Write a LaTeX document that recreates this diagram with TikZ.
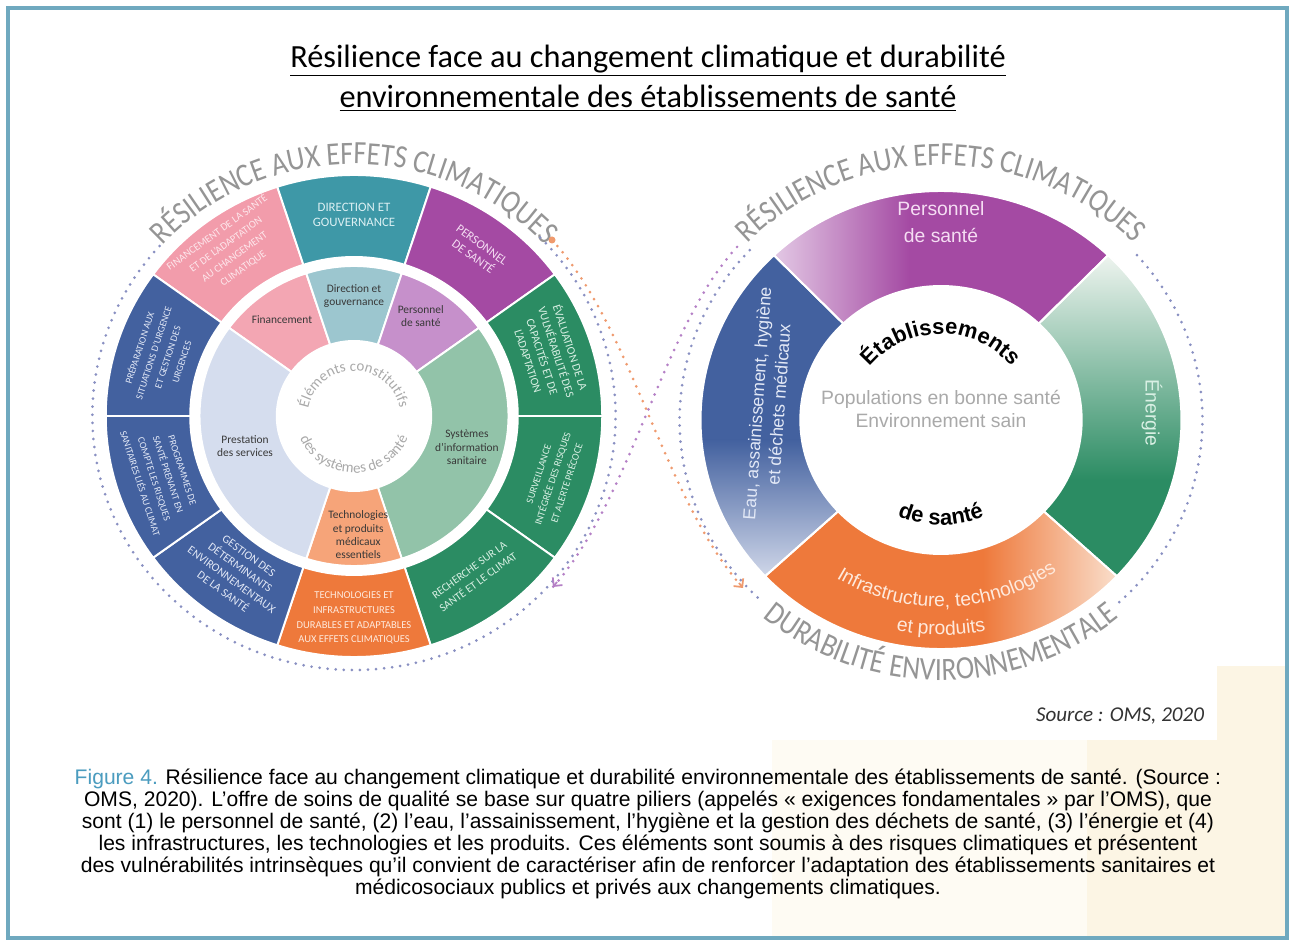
\documentclass[tikz,border=0pt]{standalone}
\usepackage{fontspec}
\setmainfont{Liberation Sans}
\newfontfamily\calib{Carlito}
\newfontfamily\arcfont[FakeStretch=0.85]{Carlito}
\usetikzlibrary{decorations.text,arrows.meta,calc}

\definecolor{framecol}{HTML}{6FA9BF}
\definecolor{figcol}{HTML}{4B9CBF}
\definecolor{creamA}{HTML}{FEFBF3}
\definecolor{creamB}{HTML}{FCF5E4}
\definecolor{pinkO}{HTML}{F29CAB}
\definecolor{pinkI}{HTML}{F3A6B3}
\definecolor{tealO}{HTML}{3E98A7}
\definecolor{tealI}{HTML}{9CC6CF}
\definecolor{purpO}{HTML}{A44AA3}
\definecolor{purpI}{HTML}{C690CB}
\definecolor{purpL}{HTML}{E8D3EA}
\definecolor{greenO}{HTML}{2B8C63}
\definecolor{greenI}{HTML}{92C3A9}
\definecolor{greenL}{HTML}{EEF4EF}
\definecolor{orangeO}{HTML}{EE793B}
\definecolor{orangeI}{HTML}{F6A479}
\definecolor{orangeL}{HTML}{FAE0CE}
\definecolor{blueO}{HTML}{43619F}
\definecolor{blueI}{HTML}{D5DDEE}
\definecolor{blueL}{HTML}{E3E7F3}
\definecolor{txtpink}{HTML}{FDE7EC}
\definecolor{txtteal}{HTML}{DCF0F3}
\definecolor{txtpurp}{HTML}{F5DDF3}
\definecolor{txtgreen}{HTML}{D9F0E4}
\definecolor{txtorange}{HTML}{FEE9DC}
\definecolor{txtblue}{HTML}{E2E8F6}
\definecolor{arcgrey}{HTML}{959595}
\definecolor{midgrey}{HTML}{A9A9A9}
\definecolor{dotblue}{HTML}{8990C2}
\definecolor{dotorange}{HTML}{EF9A6E}
\definecolor{dotpurple}{HTML}{B580C6}

\begin{document}
\begin{tikzpicture}[x=0.02cm, y=0.02cm,
    sector/.style={draw=white, line width=1.1pt},
    ringtxt/.style={align=center, inner sep=0pt, font=\calib\fontsize{#1}{8.4}\selectfont},
    coretxt/.style={align=center, inner sep=0pt, text=black!78, font=\calib\fontsize{6.5}{7.6}\selectfont},
    pillar/.style={align=center, inner sep=0pt, font=\fontsize{11}{15.5}\selectfont},
    dots/.style={line width=1.7pt, line cap=round, dash pattern=on 0pt off 4.6pt},
    barb/.style={-{Straight Barb[length=3.5pt, width=7pt, line width=1pt]}},
    arctxt/.style={decorate, decoration={text along path, text align=center, text color=arcgrey,
        text={|\arcfont\fontsize{18.5}{20}\selectfont|#1}}}
]
    % page, cream patch and frame
    \fill[white] (0,0) rectangle (1292,944);
    \fill[creamA] (772,6) rectangle (1287,204);
    \fill[creamB] (1087,6) rectangle (1287,204);
    \fill[creamB] (1217,204) rectangle (1287,278);
    \draw[framecol, line width=1.8pt] (8,6) rectangle (1287,936);

    \node[align=center, font=\calib\fontsize{18.4}{22.7}\selectfont] (title) at (648,866)
        {\underline{Résilience face au changement climatique et durabilité}\\
         \underline{environnementale des établissements de santé}};

    % Left wheel: building blocks and climate resilience
    \begin{scope}[shift={(354,528)}, xscale=1.03]
        \foreach \a/\col in {108/pinkO, 72/tealO, 36/purpO, 0/greenO, -36/greenO, -72/greenO,
                             -108/orangeO, -144/blueO, 180/blueO, 144/blueO}
            \filldraw[sector, fill=\col] (\a:241) arc[start angle=\a, delta angle=36, radius=241]
                -- ({\a+36}:159) arc[start angle=\a+36, delta angle=-36, radius=159] -- cycle;
        \foreach \a/\b/\col in {108/144/pinkI, 72/108/tealI, 36/72/purpI, -72/36/greenI,
                                -108/-72/orangeI, 144/252/blueI}
            \filldraw[sector, fill=\col] (\a:150) arc[start angle=\a, end angle=\b, radius=150]
                -- (\b:75) arc[start angle=\b, end angle=\a, radius=75] -- cycle;

        \node[ringtxt=6, text=txtpink, rotate=36] (finO) at (126:205)
            {FINANCEMENT DE LA SANTÉ\\ET DE L’ADAPTATION\\AU CHANGEMENT\\CLIMATIQUE};
        \node[ringtxt=7.3, text=txtteal] (dirO) at (90:201) {DIRECTION ET\\GOUVERNANCE};
        \node[ringtxt=7, text=txtpurp, rotate=-36] (perO) at (54:204) {PERSONNEL\\DE SANTÉ};
        \node[ringtxt=6.6, text=txtgreen, rotate=-72] (evaO) at (18:200)
            {ÉVALUATION DE LA\\VULNÉRABILITÉ DES\\CAPACITÉS ET DE\\L’ADAPTATION};
        \node[ringtxt=5.8, text=txtgreen, rotate=72] (surO) at (-18:203)
            {SURVEILLANCE\\INTÉGRÉE DES RISQUES\\ET ALERTE PRÉCOCE};
        \node[ringtxt=6.4, text=txtgreen, rotate=36] (recO) at (-54:198)
            {RECHERCHE SUR LA\\SANTÉ ET LE CLIMAT};
        \node[ringtxt=6, text=txtorange] (tecO) at (-90:202)
            {TECHNOLOGIES ET\\INFRASTRUCTURES\\DURABLES ET ADAPTABLES\\AUX EFFETS CLIMATIQUES};
        \node[ringtxt=6.6, text=txtblue, rotate=-36] (gesO) at (-126:195)
            {GESTION DES\\DÉTERMINANTS\\ENVIRONNEMENTAUX\\DE LA SANTÉ};
        \node[ringtxt=5.6, text=txtblue, rotate=-72] (proO) at (-162:197)
            {PROGRAMMES DE\\SANTÉ PRENANT EN\\COMPTE LES RISQUES\\SANITAIRES LIÉS AU CLIMAT};
        \node[ringtxt=5.6, text=txtblue, rotate=72] (preO) at (162:198)
            {PRÉPARATION AUX\\SITUATIONS D’URGENCE\\ET GESTION DES\\URGENCES};

        \node[coretxt] (finI) at (126:119) {Financement};
        \node[coretxt] (dirI) at (90:120) {Direction et\\gouvernance};
        \node[coretxt] (perI) at (57:119) {Personnel\\de santé};
        \node[coretxt] (sysI) at (-16:114) {Systèmes\\d’information\\sanitaire};
        \node[coretxt] (tecI) at (-88:119) {Technologies\\et produits\\médicaux\\essentiels};
        \node[coretxt] (preI) at (196:110) {Prestation\\des services};

        \path[decorate, decoration={text along path, text align=center, text color=midgrey,
            text={|\calib\fontsize{8.5}{9}\selectfont|Éléments constitutifs}}]
            (200:45) arc[start angle=200, end angle=-20, radius=45];
        \path[decorate, decoration={text along path, text align=center, text color=midgrey,
            text={|\calib\fontsize{8.5}{9}\selectfont|des systèmes de santé}}]
            (160:57) arc[start angle=160, end angle=380, radius=57];

        \path[arctxt=RÉSILIENCE AUX EFFETS CLIMATIQUES] (175:252) arc[start angle=175, end angle=5, radius=252];
        \draw[dots, dotblue] (138:254) arc[start angle=138, end angle=405, radius=254];
    \end{scope}

    % Right wheel: health care facilities
    \begin{scope}[shift={(941,524)}, xscale=1.05]
        % personnel de sante
        \begin{scope}
            \clip (46:229) arc[start angle=46, end angle=134, radius=229] -- (134:134)
                arc[start angle=134, end angle=46, radius=134] -- cycle;
            \fill[purpO] (-250,0) rectangle (250,250);
            \fill[purpL] (-250,0) rectangle (-170,250);
            \shade[left color=purpL, right color=purpO] (-170,0) rectangle (-30,250);
        \end{scope}
        % energie
        \begin{scope}
            \clip (-43:229) arc[start angle=-43, end angle=46, radius=229] -- (46:134)
                arc[start angle=46, end angle=-43, radius=134] -- cycle;
            \fill[greenO] (0,-250) rectangle (250,250);
            \fill[greenL] (0,165) rectangle (250,250);
            \shade[top color=greenL, bottom color=greenO] (0,-60) rectangle (250,165);
        \end{scope}
        % infrastructure
        \begin{scope}
            \clip (223:229) arc[start angle=223, end angle=317, radius=229] -- (317:134)
                arc[start angle=317, end angle=223, radius=134] -- cycle;
            \fill[orangeO] (-250,-250) rectangle (250,0);
            \fill[orangeL] (170,-250) rectangle (250,0);
            \shade[left color=orangeO, right color=orangeL] (40,-250) rectangle (170,0);
        \end{scope}
        % eau
        \begin{scope}
            \clip (134:229) arc[start angle=134, end angle=223, radius=229] -- (223:134)
                arc[start angle=223, end angle=134, radius=134] -- cycle;
            \fill[blueO] (-250,-250) rectangle (0,250);
            \fill[blueL] (-250,-250) rectangle (0,-175);
            \shade[top color=blueO, bottom color=blueL] (-250,-175) rectangle (0,-20);
        \end{scope}
        \foreach \a/\b in {46/134, -43/46, 223/317, 134/223}
            \draw[sector] (\a:229) arc[start angle=\a, end angle=\b, radius=229]
                -- (\b:134) arc[start angle=\b, end angle=\a, radius=134] -- cycle;

        \node[pillar, text=txtpurp] (persR) at (0,198) {Personnel\\de santé};
        \node[pillar, text=txtgreen, rotate=-90] (enerR) at (2:201) {Énergie};
        \node[pillar, text=txtblue, rotate=86, font=\fontsize{10}{12.4}\selectfont] (eauR) at (-165,16)
            {Eau, assainissement, hygiène\\et déchets médicaux};
        \path[decorate, decoration={text along path, text align=center, text color=txtorange,
            text={|\fontsize{11}{12}\selectfont|Infrastructure, technologies}}]
            (212:187) arc[start angle=212, end angle=332, radius=187];
        \path[decorate, decoration={text along path, text align=center, text color=txtorange,
            text={|\fontsize{11}{12}\selectfont|et produits}}]
            (240:215) arc[start angle=240, end angle=300, radius=215];

        \path[decorate, decoration={text along path, text align=center,
            text={|\bfseries\fontsize{12.5}{13}\selectfont|Établissements}}]
            (180:86) arc[start angle=180, end angle=0, radius=86];
        \path[decorate, decoration={text along path, text align=center,
            text={|\bfseries\fontsize{12.5}{13}\selectfont|de santé}}]
            (200:105) arc[start angle=200, end angle=340, radius=105];
        \node[align=center, text=midgrey, font=\fontsize{11}{13.6}\selectfont] (popR) at (0,11)
            {Populations en bonne santé\\Environnement sain};

        \path[arctxt=RÉSILIENCE AUX EFFETS CLIMATIQUES] (175:255) arc[start angle=175, end angle=5, radius=255];
        \path[arctxt=DURABILITÉ ENVIRONNEMENTALE] (190:260) arc[start angle=190, end angle=350, radius=260];
        \draw[dots, dotblue] (137:249) arc[start angle=137, end angle=226, radius=249];
        \draw[dots, dotblue] (-47:249) arc[start angle=-47, end angle=43, radius=249];
    \end{scope}

    % links between the two wheels
    \coordinate (orA) at (552,704);
    \coordinate (orB) at (743,356);
    \coordinate (puA) at (737,697);
    \coordinate (puB) at (553,357);
    \draw[dots, dotorange] (orA) .. controls (633,616) and (663,446) .. (orB);
    \draw[dots, dotpurple] (puA) .. controls (662,616) and (632,446) .. (puB);
    \draw[barb, dotorange, line width=1pt] ($(orB)+(-4,5)$) -- (orB);
    \draw[barb, dotpurple, line width=1pt] ($(puB)+(4,5)$) -- (puB);
    \fill[dotorange] (orA) circle (3.5);

    \node[font=\calib\itshape\fontsize{12}{14}\selectfont, text=black!80] (src) at (1120,228) {Source : OMS, 2020};

    \node[align=center, font=\fontsize{12}{12.47}\selectfont] (cap) at (648,110)
        {{\color{figcol}Figure 4.} Résilience face au changement climatique et durabilité environnementale des établissements de santé. (Source :\\
        OMS, 2020). L’offre de soins de qualité se base sur quatre piliers (appelés « exigences fondamentales » par l’OMS), que\\
        sont (1) le personnel de santé, (2) l’eau, l’assainissement, l’hygiène et la gestion des déchets de santé, (3) l’énergie et (4)\\
        les infrastructures, les technologies et les produits. Ces éléments sont soumis à des risques climatiques et présentent\\
        des vulnérabilités intrinsèques qu’il convient de caractériser afin de renforcer l’adaptation des établissements sanitaires et\\
        médicosociaux publics et privés aux changements climatiques.};
\end{tikzpicture}
\end{document}
